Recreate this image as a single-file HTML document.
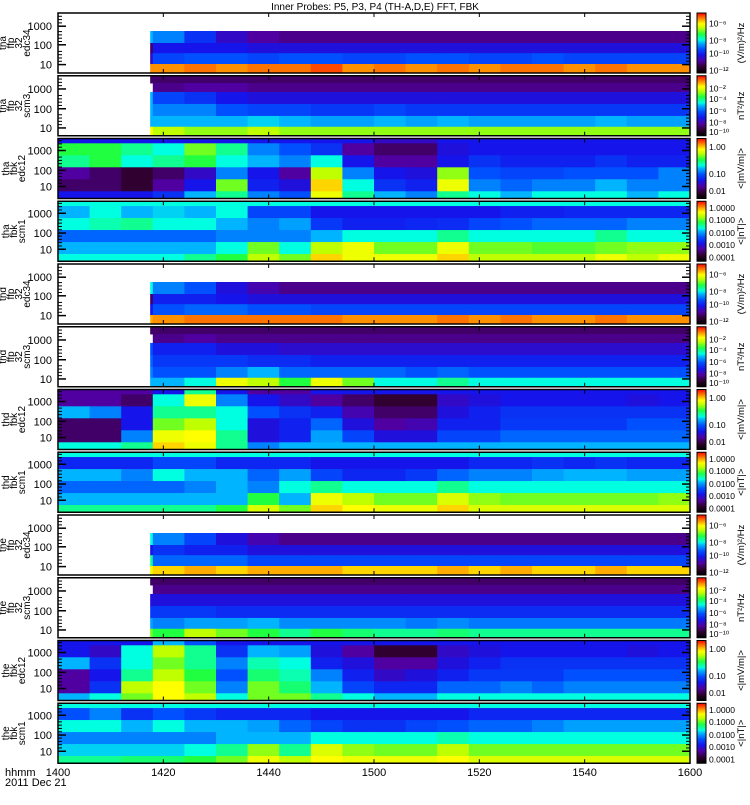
<!DOCTYPE html>
<html><head><meta charset="utf-8">
<style>
html,body{margin:0;padding:0;background:#fff;}
body{width:750px;height:800px;overflow:hidden;font-family:"Liberation Sans",sans-serif;}
svg text{font-family:"Liberation Sans",sans-serif;fill:#000;}
</style></head>
<body>
<svg id="fig" width="750" height="800" viewBox="0 0 750 800" xmlns="http://www.w3.org/2000/svg">
<text x="375" y="10" font-size="10" text-anchor="middle">Inner Probes: P5, P3, P4 (TH-A,D,E) FFT, FBK</text>
<text x="5" y="776" font-size="11">hhmm</text>
<text x="5" y="786" font-size="11">2011 Dec 21</text>
</svg>
<script>
const n = null;
const xTicks = [0, 20, 40, 60, 80, 100, 120];
const xTickLabels = ["1400","1420","1440","1500","1520","1540","1600"];
const panelNames = [
 ["tha","ffp","32","edc34"],["tha","ffp","32","scm3"],["tha","fbk","edc12"],["tha","fbk","scm1"],
 ["thd","ffp","32","edc34"],["thd","ffp","32","scm3"],["thd","fbk","edc12"],["thd","fbk","scm1"],
 ["the","ffp","32","edc34"],["the","ffp","32","scm3"],["the","fbk","edc12"],["the","fbk","scm1"]];
const panelTypes = ["edc34","scm3","edc12","scm1","edc34","scm3","edc12","scm1","edc34","scm3","edc12","scm1"];
const panelStart = [17.5,17.5,0,0,17.5,17.5,0,0,17.5,17.5,0,0];

// 20 time columns (6 min each), rows top->bottom
const thaEdc34 = [
 [n,n,n,n,n,n,n,n,n,n,n,n,n,n,n,n,n,n,n,n],
 [n,n,.5,.45,.35,.25,.2,.18,.18,.18,.18,.18,.18,.18,.18,.18,.18,.18,.18,.18],
 [n,n,.15,.3,.3,.3,.28,.28,.28,.28,.28,.28,.28,.28,.28,.28,.28,.28,.28,.28],
 [n,n,.25,.38,.4,.4,.38,.4,.4,.38,.38,.4,.4,.38,.38,.4,.38,.38,.38,.38],
 [n,n,.9,.9,.92,.9,.92,.92,.95,.9,.92,.9,.92,.9,.92,.92,.9,.92,.9,.9]];
const thaScm3 = [
 [n,n,.15,.15,.15,.15,.15,.15,.15,.15,.15,.15,.15,.15,.15,.15,.15,.15,.15,.15],
 [n,n,n,.18,.2,.2,.18,.18,.18,.18,.18,.18,.18,.18,.18,.18,.18,.18,.18,.18],
 [n,n,.5,.38,.35,.3,.28,.28,.28,.28,.28,.28,.28,.28,.28,.28,.28,.28,.28,.28],
 [n,n,.5,.45,.45,.4,.38,.38,.36,.36,.38,.36,.36,.36,.36,.36,.36,.36,.36,.36],
 [n,n,.5,.5,.5,.5,.52,.5,.48,.48,.5,.48,.5,.48,.48,.48,.48,.5,.48,.48],
 [n,n,.82,.75,.72,.72,.75,.72,.72,.72,.72,.72,.72,.72,.72,.72,.72,.72,.72,.72]];
const thaEdc12 = [
 [.3,.3,.3,.3,.3,.3,.3,.3,.3,.3,.25,.25,.3,.3,.3,.3,.3,.3,.3,.3],
 [.65,.65,.6,.55,.7,.6,.45,.4,.35,.2,.15,.15,.28,.3,.3,.3,.3,.3,.3,.3],
 [.6,.65,.55,.6,.65,.55,.5,.45,.55,.3,.2,.2,.3,.35,.32,.32,.32,.35,.32,.32],
 [.2,.15,.1,.15,.25,.45,.3,.2,.75,.45,.3,.28,.72,.4,.38,.38,.4,.4,.4,.45],
 [.15,.15,.1,.2,.3,.7,.32,.28,.85,.55,.35,.32,.8,.45,.42,.45,.45,.5,.45,.45],
 [.3,.3,.3,.35,.5,.6,.45,.4,.8,.6,.5,.45,.6,.55,.5,.55,.55,.55,.5,.55]];
const thaScm1 = [
 [.55,.55,.55,.55,.55,.55,.55,.55,.55,.55,.55,.55,.55,.55,.55,.55,.55,.55,.55,.55],
 [.5,.55,.5,.52,.5,.55,.38,.38,.3,.3,.3,.3,.3,.3,.32,.32,.33,.33,.33,.33],
 [.55,.58,.6,.55,.55,.5,.45,.48,.36,.32,.32,.33,.34,.38,.4,.42,.42,.42,.45,.45],
 [.42,.42,.42,.42,.42,.45,.45,.45,.5,.55,.55,.55,.6,.55,.55,.55,.55,.6,.55,.55],
 [.5,.5,.5,.5,.5,.55,.7,.55,.75,.8,.7,.7,.8,.7,.7,.68,.68,.7,.72,.72],
 [.55,.55,.55,.55,.6,.65,.75,.7,.85,.8,.8,.8,.85,.75,.75,.75,.75,.8,.75,.8]];
const thdEdc34 = [
 [n,n,n,n,n,n,n,n,n,n,n,n,n,n,n,n,n,n,n,n],
 [n,n,.55,.45,.4,.28,.22,.18,.18,.18,.18,.18,.18,.18,.18,.18,.18,.18,.18,.18],
 [n,n,.15,.32,.32,.3,.28,.28,.28,.28,.28,.28,.28,.28,.28,.28,.28,.28,.28,.28],
 [n,n,.3,.4,.42,.42,.4,.4,.38,.38,.38,.38,.38,.38,.38,.38,.38,.38,.38,.38],
 [n,n,.88,.9,.92,.92,.92,.92,.92,.9,.9,.9,.92,.9,.92,.9,.9,.92,.9,.9]];
const thdScm3 = [
 [n,n,.15,.15,.15,.15,.15,.15,.15,.15,.15,.15,.15,.15,.15,.15,.15,.15,.15,.15],
 [n,n,n,.18,.2,.18,.18,.18,.18,.18,.18,.18,.18,.18,.18,.18,.18,.18,.18,.18],
 [n,n,.4,.32,.32,.28,.28,.26,.26,.26,.26,.26,.26,.26,.26,.26,.26,.26,.26,.26],
 [n,n,.42,.36,.36,.36,.34,.34,.32,.32,.32,.32,.32,.32,.32,.32,.32,.32,.32,.32],
 [n,n,.45,.4,.4,.45,.5,.42,.42,.42,.42,.4,.42,.4,.4,.4,.4,.4,.4,.4],
 [n,n,.5,.5,.55,.8,.75,.65,.8,.7,.55,.55,.6,.55,.55,.55,.55,.55,.55,.55]];
const thdEdc12 = [
 [.2,.2,.2,.3,.6,.3,.2,.2,.3,.3,.3,.3,.3,.3,.3,.3,.3,.3,.3,.3],
 [.2,.2,.15,.55,.8,.45,.3,.25,.2,.15,.1,.1,.25,.28,.3,.3,.3,.3,.28,.3],
 [.5,.45,.3,.6,.6,.55,.4,.35,.32,.22,.15,.15,.28,.32,.35,.35,.35,.35,.35,.35],
 [.15,.15,.3,.7,.75,.55,.28,.32,.42,.28,.2,.22,.32,.32,.36,.36,.36,.36,.4,.4],
 [.15,.15,.45,.8,.82,.6,.28,.32,.48,.38,.28,.28,.38,.38,.42,.42,.42,.42,.42,.42],
 [.55,.55,.6,.85,.8,.6,.45,.5,.5,.5,.5,.5,.5,.5,.5,.5,.5,.5,.5,.5]];
const thdScm1 = [
 [.55,.55,.55,.55,.55,.55,.55,.55,.55,.55,.55,.55,.55,.55,.55,.55,.55,.55,.55,.55],
 [.33,.33,.33,.38,.38,.33,.33,.33,.3,.3,.3,.3,.3,.33,.33,.35,.33,.35,.33,.33],
 [.5,.5,.45,.55,.5,.5,.42,.48,.38,.33,.33,.36,.42,.45,.45,.48,.5,.5,.48,.48],
 [.42,.42,.42,.42,.45,.5,.45,.55,.6,.55,.55,.55,.6,.55,.55,.55,.55,.55,.55,.55],
 [.5,.5,.5,.5,.5,.5,.65,.5,.8,.75,.7,.7,.78,.72,.7,.7,.7,.7,.7,.72],
 [.6,.6,.6,.6,.6,.65,.78,.7,.85,.82,.8,.8,.85,.78,.78,.78,.78,.78,.78,.78]];
const theEdc34 = [
 [n,n,n,n,n,n,n,n,n,n,n,n,n,n,n,n,n,n,n,n],
 [n,n,.55,.45,.38,.28,.22,.18,.18,.18,.18,.18,.18,.18,.18,.18,.18,.18,.18,.18],
 [n,n,.3,.35,.32,.32,.28,.28,.28,.28,.28,.28,.28,.28,.28,.28,.28,.28,.28,.28],
 [n,n,.6,.42,.42,.42,.38,.38,.38,.38,.38,.38,.38,.38,.38,.38,.38,.38,.38,.38],
 [n,n,.8,.85,.88,.85,.88,.88,.88,.85,.85,.85,.88,.85,.88,.85,.85,.88,.85,.85]];
const theScm3 = [
 [n,n,.15,.15,.15,.15,.15,.15,.15,.15,.15,.15,.15,.15,.15,.15,.15,.15,.15,.15],
 [n,n,n,.18,.18,.18,.18,.18,.18,.18,.18,.18,.18,.18,.18,.18,.18,.18,.18,.18],
 [n,n,.28,.28,.28,.28,.28,.28,.28,.28,.28,.28,.28,.28,.28,.28,.28,.28,.28,.28],
 [n,n,.36,.36,.36,.34,.34,.34,.34,.34,.34,.34,.34,.34,.34,.34,.34,.34,.34,.34],
 [n,n,.48,.45,.48,.48,.5,.46,.46,.46,.46,.44,.46,.44,.44,.44,.44,.44,.44,.44],
 [n,n,.7,.65,.75,.7,.65,.6,.65,.62,.6,.6,.62,.6,.6,.6,.6,.6,.6,.6]];
const theEdc12 = [
 [.3,.3,.3,.5,.4,.3,.3,.3,.3,.3,.3,.3,.3,.3,.3,.3,.3,.3,.3,.3],
 [.3,.25,.55,.75,.6,.35,.5,.48,.28,.2,.1,.1,.25,.28,.3,.3,.3,.3,.28,.3],
 [.5,.35,.55,.7,.6,.45,.58,.55,.32,.28,.2,.2,.28,.32,.35,.35,.35,.35,.35,.35],
 [.2,.3,.6,.75,.65,.4,.62,.58,.45,.32,.25,.28,.32,.36,.36,.36,.4,.4,.4,.4],
 [.2,.35,.75,.82,.7,.45,.7,.62,.5,.38,.33,.33,.42,.42,.45,.42,.45,.45,.45,.45],
 [.5,.55,.7,.82,.75,.55,.7,.7,.6,.55,.5,.5,.55,.55,.55,.55,.55,.55,.55,.55]];
const theScm1 = [
 [.55,.55,.55,.55,.55,.55,.55,.55,.55,.55,.55,.55,.55,.55,.55,.55,.55,.55,.55,.55],
 [.4,.45,.35,.4,.36,.33,.33,.33,.3,.3,.3,.3,.3,.33,.33,.33,.33,.33,.33,.33],
 [.55,.55,.5,.55,.5,.5,.48,.42,.38,.35,.35,.38,.4,.42,.42,.45,.48,.48,.48,.48],
 [.45,.45,.45,.45,.45,.5,.5,.5,.55,.55,.55,.55,.58,.55,.55,.55,.55,.55,.55,.55],
 [.52,.52,.52,.52,.55,.6,.72,.6,.78,.72,.7,.7,.75,.7,.7,.7,.7,.7,.7,.7],
 [.6,.6,.62,.62,.65,.7,.8,.75,.82,.8,.8,.8,.82,.78,.78,.78,.78,.78,.78,.78]];
const panelData = [thaEdc34,thaScm3,thaEdc12,thaScm1,thdEdc34,thdScm3,thdEdc12,thdScm1,theEdc34,theScm3,theEdc12,theScm1];

const cbLabelsEdc34 = ["10⁻⁶","10⁻⁸","10⁻¹⁰","10⁻¹²"];
const cbLabelsScm3 = ["10⁻²","10⁻⁴","10⁻⁶","10⁻⁸","10⁻¹⁰"];
const cbLabelsEdc12 = ["1.00","0.10","0.01"];
const cbLabelsScm1 = ["1.0000","0.1000","0.0100","0.0010","0.0001"];
const yLabels = ["1000","100","10"];

const X0 = 58, X1 = 690, TMAX = 120;
const xScale = t => X0 + (X1 - X0) * t / TMAX;
const panelTop = i => 13 + i * 62.75;
const PH = 60;
const rowFracs = {edc34:[0.3,0.2,0.17,0.18,0.15], scm3:[0.12,0.15,0.2,0.2,0.18,0.15], edc12:[0.08,0.2,0.2,0.2,0.2,0.12], scm1:[0.08,0.2,0.2,0.2,0.2,0.12]};
const yLabelFrac = {edc34:[0.22,0.53,0.86], scm3:[0.22,0.55,0.87], edc12:[0.2,0.53,0.8], scm1:[0.2,0.53,0.8]};
const units = {edc34:"(V/m)²/Hz", scm3:"nT²/Hz", edc12:"<|mV/m|>", scm1:"<|nT|>"};
const cbLabels = {edc34:cbLabelsEdc34, scm3:cbLabelsScm3, edc12:cbLabelsEdc12, scm1:cbLabelsScm1};
const cbFrac = {edc34:[0.17,0.45,0.67,0.95], scm3:[0.2,0.38,0.58,0.77,0.93], edc12:[0.13,0.58,0.87], scm1:[0.1,0.3,0.52,0.72,0.93]};

const stops = [[0,[0,0,0]],[0.1,[48,0,48]],[0.2,[80,0,160]],[0.3,[20,20,235]],[0.4,[0,80,255]],[0.5,[0,180,255]],[0.55,[0,255,224]],[0.65,[32,255,64]],[0.75,[192,255,0]],[0.82,[255,255,0]],[0.9,[255,144,0]],[1,[255,0,0]]];
function cmap(v){
  v = Math.max(0, Math.min(1, v));
  for (let k = 1; k < stops.length; k++){
    if (v <= stops[k][0]){
      const a = stops[k-1], b = stops[k], f = (v - a[0]) / (b[0] - a[0]);
      const c = a[1].map((x, j) => Math.round(x + (b[1][j] - x) * f));
      return `rgb(${c[0]},${c[1]},${c[2]})`;
    }
  }
  return "rgb(255,0,0)";
}

const NS = "http://www.w3.org/2000/svg";
const svg = document.getElementById("fig");
function mk(tag, attrs, parent){
  const e = document.createElementNS(NS, tag);
  for (const k in attrs) e.setAttribute(k, attrs[k]);
  (parent || svg).appendChild(e);
  return e;
}

const defs = mk("defs", {});
const grad = mk("linearGradient", {id:"rainbow", x1:"0", y1:"1", x2:"0", y2:"0"}, defs);
stops.forEach(s => { mk("stop", {offset: s[0], "stop-color": cmap(s[0])}, grad); });

panelData.forEach((data, i) => {
  const type = panelTypes[i];
  const top = panelTop(i);
  const g = mk("g", {});
  
  
  const nCols = data[0].length;
  const dt = TMAX / nCols;
  const fr = rowFracs[type];
  let yAcc = top;
  data.forEach((row, r) => {
    const h = fr[r] * PH;
    row.forEach((v, c) => {
      if (v === null) return;
      const t0 = Math.max(c * dt, panelStart[i]), t1 = (c + 1) * dt;
      if (t1 <= t0) return;
      const rect = mk("rect", {x: xScale(t0), y: yAcc, width: xScale(t1) - xScale(t0) + 0.5, height: h + 0.5, fill: cmap(v)}, g);
      
      
    });
    yAcc += h;
  });
  const frame = mk("rect", {x: X0, y: top, width: X1 - X0, height: PH, fill: "none", stroke: "#000", "stroke-width": 1.5}, g);
  
  
  xTicks.forEach(t => {
    mk("line", {x1: xScale(t), x2: xScale(t), y1: top, y2: top + 4, stroke: "#000"}, g);
    mk("line", {x1: xScale(t), x2: xScale(t), y1: top + PH, y2: top + PH - 4, stroke: "#000"}, g);
  });
  yLabelFrac[type].forEach((f, k) => {
    const y = top + f * PH;
    const tl = mk("text", {x: 52, y: y + 4, "font-size": 11, "text-anchor": "end"}, g);
    tl.textContent = yLabels[k];
    
    
    mk("line", {x1: X0, x2: X0 + 8, y1: y, y2: y, stroke: "#000", "stroke-width": 1.5}, g);
    mk("line", {x1: X1, x2: X1 - 8, y1: y, y2: y, stroke: "#000", "stroke-width": 1.5}, g);
    for (let m = 1; m <= 4; m++){
      const ym = y - m * 0.055 * PH;
      if (ym > top + 1){
        mk("line", {x1: X0, x2: X0 + 4, y1: ym, y2: ym, stroke: "#000"}, g);
        mk("line", {x1: X1, x2: X1 - 4, y1: ym, y2: ym, stroke: "#000"}, g);
      }
    }
  });
  const lines = panelNames[i];
  const lbl = mk("text", {transform: `translate(${30 - (4 - lines.length) * 5},${top + PH / 2}) rotate(-90)`, "font-size": 10, "text-anchor": "middle"}, g);
  
  
  lines.forEach((s, k) => {
    const ts = mk("tspan", {x: 0, dy: k === 0 ? -(lines.length - 1) * 8 : 8}, lbl);
    ts.textContent = s;
  });
  const cb = mk("rect", {x: 697, y: top, width: 9, height: PH, fill: "url(#rainbow)", stroke: "#000", "stroke-width": 1}, g);
  
  
  cbLabels[type].forEach((s, k) => {
    const y = top + cbFrac[type][k] * PH;
    const t = mk("text", {x: 709, y: y + 3.5, "font-size": 8.5}, g);
    t.textContent = s;
    
    
  });
  const u = mk("text", {transform: `translate(744,${top + PH / 2}) rotate(-90)`, "font-size": 9.5, "text-anchor": "middle"}, g);
  u.textContent = units[type];
  
  
});

xTicks.forEach((t, k) => {
  const tl = mk("text", {x: xScale(t), y: 776, "font-size": 11, "text-anchor": "middle"});
  tl.textContent = xTickLabels[k];
  
  
});
</script>
</body></html>
